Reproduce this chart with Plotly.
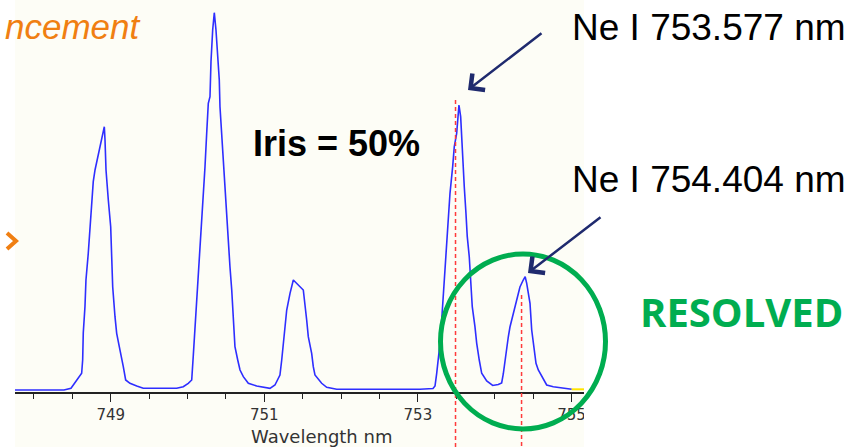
import plotly.graph_objects as go

# ---------------- data ----------------
wavelength_nm = [
    747.754, 748.392, 748.483, 748.600, 748.622, 748.635, 748.643, 748.665, 748.678, 748.708,
    748.730, 748.753, 748.773, 748.796, 748.818, 748.839, 748.861, 748.883, 748.904, 748.917,
    748.926, 748.939, 748.969, 749.000, 749.013, 749.026, 749.056, 749.078, 749.112, 749.143,
    749.164, 749.195, 749.251, 749.339, 749.424, 749.859, 749.945, 750.010, 750.055, 750.076,
    750.098, 750.120, 750.141, 750.163, 750.185, 750.206, 750.228, 750.250, 750.271, 750.293,
    750.306, 750.328, 750.349, 750.371, 750.393, 750.414, 750.423, 750.445, 750.466, 750.488,
    750.510, 750.531, 750.553, 750.576, 750.596, 750.618, 750.654, 750.684, 750.727, 750.792,
    750.901, 751.031, 751.074, 751.139, 751.204, 751.227, 751.247, 751.270, 751.292, 751.335,
    751.357, 751.378, 751.508, 751.530, 751.552, 751.573, 751.617, 751.638, 751.660, 751.747,
    751.813, 751.943, 753.027, 753.197, 753.223, 753.245, 753.266, 753.288, 753.310, 753.331,
    753.353, 753.375, 753.396, 753.418, 753.453, 753.474, 753.505, 753.518, 753.535, 753.557,
    753.570, 753.591, 753.604, 753.626, 753.643, 753.669, 753.688, 753.708, 753.743, 753.766,
    753.799, 753.831, 753.896, 753.974, 754.047, 754.091, 754.112, 754.134, 754.156, 754.177,
    754.199, 754.242, 754.286, 754.329, 754.372, 754.397, 754.417, 754.438, 754.460, 754.482,
    754.512, 754.538, 754.568, 754.633, 754.677, 754.763, 754.938, 755.003,
]
intensity = [
    0, 0, 1.7, 15, 16.7, 30, 57, 83.3, 110, 136.7,
    163.3, 190, 208.3, 220, 228.3, 236.7, 245, 251.7, 258.3, 263.3,
    250, 220, 190, 163.3, 133.3, 103.3, 73.3, 56.7, 43.3, 33.3,
    23.3, 10, 6.7, 4, 1.7, 1.7, 3.3, 6.7, 10, 35,
    61.7, 88.3, 115, 136.7, 161.7, 190, 223.3, 256.7, 286.7, 293.3,
    328.3, 360, 377.3, 360, 336.7, 310, 283.3, 255, 226.7, 200,
    173.3, 146.7, 123.3, 100, 76.7, 43.3, 30, 20, 13.3, 6.7,
    4, 1.7, 1.7, 5, 15, 30, 45, 61.7, 80, 96.7,
    105, 110, 100, 86.7, 70, 53.3, 36.7, 23.3, 15, 6.7,
    2.7, 0.7, 0.7, 1.5, 4, 16.7, 30, 46.7, 70, 96.7,
    120, 143.3, 170, 196.7, 223.3, 243.3, 256.7, 273.3, 285, 273.3,
    250, 226.7, 203.3, 176.7, 153.3, 133.3, 110, 83.3, 63.3, 46.7,
    30, 16.7, 9, 4.5, 5.5, 7, 16, 30, 43, 53,
    63, 76.7, 90, 103, 110, 113.3, 106.7, 96.7, 86.7, 60,
    43.3, 26.7, 20, 11.7, 5, 3.3, 1.7, 0.7,
]
tail_wavelength_nm = [755.003, 755.176]
tail_intensity = [0.7, 0.7]

ne_line_positions_nm = [753.49, 754.35]
ne_line_labels = ["Ne I 753.577 nm", "Ne I 754.404 nm"]
tick_values = [749, 751, 753, 755]

# ---------------- layout helpers (pixel -> paper) ----------------
W, H = 846, 447
L, R_EDGE, T, B_EDGE = 15, 584, 0, 392


def px(x):
    return (x - L) / (R_EDGE - L)


def py(y):
    return (B_EDGE - y) / (B_EDGE - T)


BLUE = "#2E2EFF"
NAVY = "#1F2A6E"
GREEN = "#00AD50"
ORANGE = "#F07F12"
CREAM = "#FDFDF6"
SANS = "Liberation Sans, Arial, sans-serif"

fig = go.Figure()
fig.add_trace(go.Scatter(x=wavelength_nm, y=intensity, mode="lines",
                         line=dict(color=BLUE, width=1.6), showlegend=False, hoverinfo="skip"))
fig.add_trace(go.Scatter(x=tail_wavelength_nm, y=tail_intensity, mode="lines",
                         line=dict(color="#FFE400", width=2), showlegend=False, hoverinfo="skip"))

shapes = []
# cream background of the spectrometer screenshot
shapes.append(dict(type="rect", xref="paper", yref="paper", x0=px(15), x1=px(584), y0=py(447), y1=py(0),
                   fillcolor=CREAM, line=dict(width=0), layer="below"))
# white mask clipping the last tick label like the screenshot edge
shapes.append(dict(type="rect", xref="paper", yref="paper", x0=px(584), x1=px(610), y0=py(430), y1=py(394),
                   fillcolor="white", line=dict(width=0), layer="above"))
# red dashed marker lines
for pos, top in zip(ne_line_positions_nm, [100, 295]):
    shapes.append(dict(type="line", xref="x", yref="paper", x0=pos, x1=pos, y0=py(top), y1=py(447),
                       line=dict(color="#FF3B3B", width=1.5, dash="4px,3px"), layer="above"))
# green circle
shapes.append(dict(type="circle", xref="paper", yref="paper", x0=px(440.5), x1=px(605.5),
                   y0=py(429), y1=py(254), line=dict(color=GREEN, width=5), layer="above"))
# orange chevron bullet
shapes.append(dict(type="path", xref="paper", yref="paper",
                   path=f"M {px(7)},{py(233)} L {px(16)},{py(241)} L {px(7)},{py(249)}",
                   line=dict(color=ORANGE, width=4), layer="above"))

annotations = [
    dict(text="ncement", x=px(3), y=py(26), xref="paper", yref="paper", xanchor="left", yanchor="middle",
         showarrow=False, font=dict(family=SANS, size=35, color=ORANGE, style="italic")),
    dict(text="<b>Iris = 50%</b>", x=px(251), y=py(143), xref="paper", yref="paper", xanchor="left",
         yanchor="middle", showarrow=False, font=dict(family=SANS, size=36, color="black")),
    dict(text=ne_line_labels[0], x=px(570), y=py(28), xref="paper", yref="paper", xanchor="left",
         yanchor="middle", showarrow=False, font=dict(family=SANS, size=37, color="black")),
    dict(text=ne_line_labels[1], x=px(570), y=py(179), xref="paper", yref="paper", xanchor="left",
         yanchor="middle", showarrow=False, font=dict(family=SANS, size=37, color="black")),
    dict(text="<b>RESOLVED</b>", x=px(845), y=py(311), xref="paper", yref="paper", xanchor="right",
         yanchor="middle", showarrow=False, font=dict(family="Open Sans, sans-serif", size=40, color=GREEN)),
    dict(text="Wavelength nm", x=px(321), y=py(447.5), xref="paper", yref="paper", xanchor="center",
         yanchor="bottom", showarrow=False, borderpad=0,
         font=dict(family="DejaVu Sans, Verdana, sans-serif", size=18, color="#333333")),
    # arrows
    dict(text="", x=px(468), y=py(90), xref="paper", yref="paper", ax=75, ay=-58, showarrow=True,
         arrowhead=4, arrowsize=1.6, arrowwidth=2.5, arrowcolor=NAVY, standoff=0),
    dict(text="", x=px(528), y=py(273), xref="paper", yref="paper", ax=74, ay=-57, showarrow=True,
         arrowhead=4, arrowsize=1.6, arrowwidth=2.5, arrowcolor=NAVY, standoff=0),
]

fig.update_layout(
    width=W, height=H,
    margin=dict(l=L, r=W - R_EDGE, t=T, b=H - B_EDGE, pad=0),
    paper_bgcolor="white", plot_bgcolor="rgba(0,0,0,0)",
    shapes=shapes, annotations=annotations, showlegend=False,
    xaxis=dict(range=[747.754, 755.163], tickmode="array", tickvals=tick_values,
               ticktext=[str(v) for v in tick_values],
               showline=True, linecolor="#222222", linewidth=1.5, ticks="outside", ticklen=8,
               tickwidth=1.3, tickcolor="#222222", showgrid=False, zeroline=False,
               tickfont=dict(family="DejaVu Sans, Verdana, sans-serif", size=15, color="#333333"),
               minor=dict(tickmode="linear", tick0=749, dtick=0.5, ticks="outside", ticklen=5,
                          tickwidth=1.3, tickcolor="#222222", showgrid=False)),
    yaxis=dict(range=[-2, 390], visible=False, showgrid=False, zeroline=False),
)

fig.write_html("out.html", config={"displayModeBar": False},
               post_script="document.body.style.margin='0';document.body.style.padding='0';"
                           "document.body.style.overflow='hidden';")
